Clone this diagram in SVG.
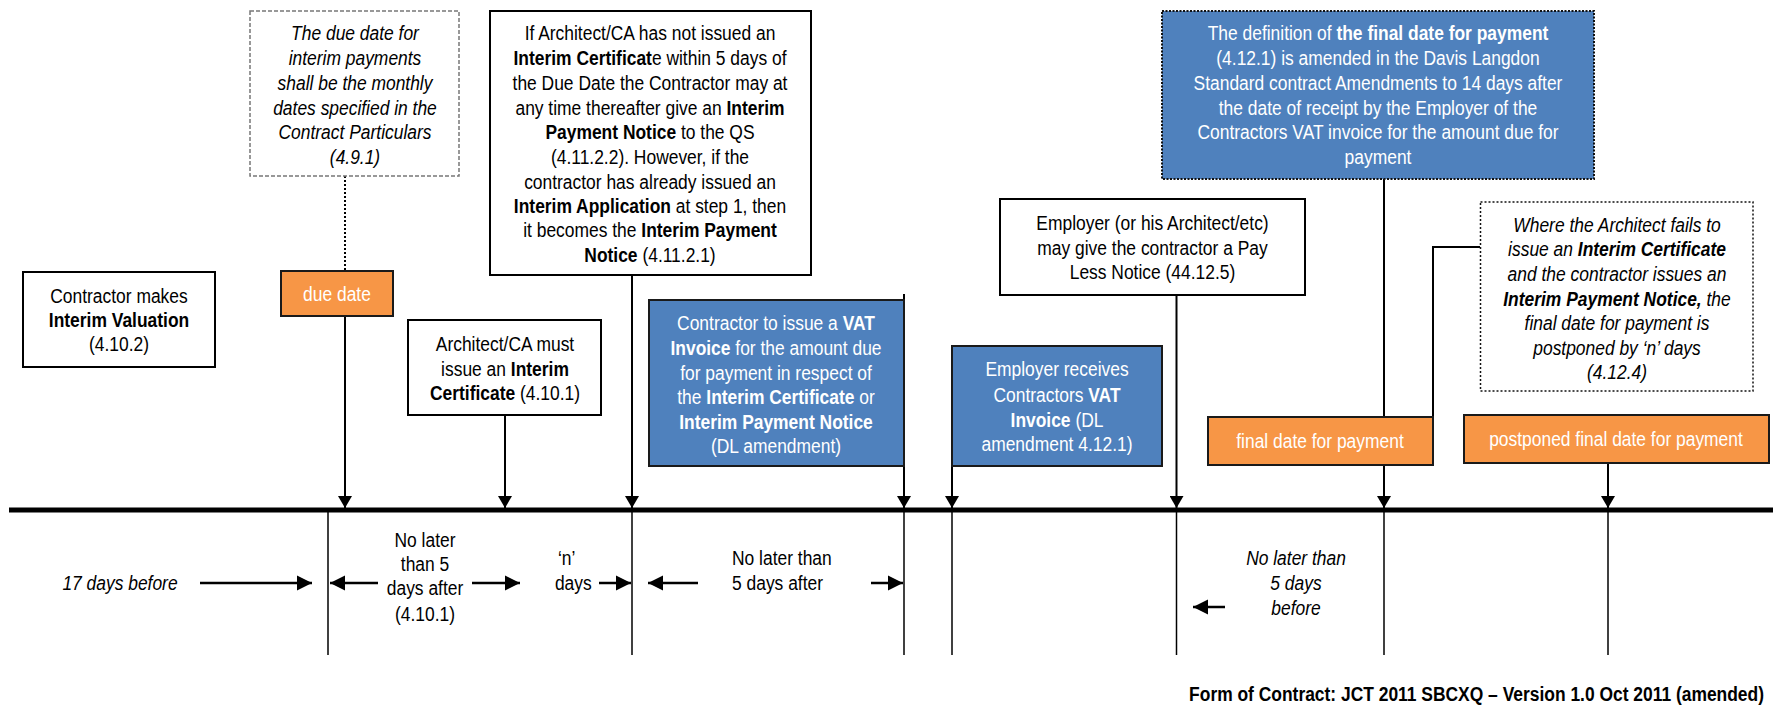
<svg xmlns="http://www.w3.org/2000/svg" width="1773" height="705" viewBox="0 0 1773 705">
<style>
.t{font-family:'Liberation Sans',Arial,sans-serif;font-size:21px;text-anchor:middle;fill:#000}
.b{font-weight:bold}
.i{font-style:italic}
.w{fill:#fff}
.box{fill:#fff;stroke:#000;stroke-width:2}
.org{fill:#F79646;stroke:#1a1a1a;stroke-width:2}
.blu{fill:#4F81BD;stroke:#1a1a1a;stroke-width:2}
.con{stroke:#000;stroke-width:2;fill:none}
.thin{stroke:#000;stroke-width:1.5;fill:none}
.har{stroke:#000;stroke-width:2.5;fill:none}
</style>
<defs>
<marker id="ah" markerUnits="userSpaceOnUse" markerWidth="14" markerHeight="14" viewBox="0 0 14 14" refX="12" refY="7" orient="auto">
<path d="M0,0 L12,7 L0,14 z" fill="#000"/>
</marker>
<marker id="ahh" markerUnits="userSpaceOnUse" markerWidth="16" markerHeight="16" viewBox="0 0 16 16" refX="15" refY="8" orient="auto">
<path d="M0,0.5 L15,8 L0,15.5 z" fill="#000"/>
</marker>
</defs>

<g id="axis">
<line x1="9" y1="510" x2="1773" y2="510" stroke="#000" stroke-width="5"/>
</g>

<g id="connectors">
<line class="con" x1="345" y1="176" x2="345" y2="271" stroke-dasharray="2,2"/>
<line class="con" x1="345" y1="316" x2="345" y2="508" marker-end="url(#ah)"/>
<line class="con" x1="505" y1="415" x2="505" y2="508" marker-end="url(#ah)"/>
<line class="con" x1="632" y1="275" x2="632" y2="508" marker-end="url(#ah)"/>
<line class="con" x1="904" y1="294" x2="904" y2="508" marker-end="url(#ah)"/>
<line class="con" x1="952" y1="416" x2="952" y2="508" marker-end="url(#ah)"/>
<line class="con" x1="1176.5" y1="295" x2="1176.5" y2="508" marker-end="url(#ah)"/>
<line class="con" x1="1384" y1="175" x2="1384" y2="417"/>
<line class="con" x1="1384" y1="465" x2="1384" y2="508" marker-end="url(#ah)"/>
<polyline class="con" points="1480,247 1433,247 1433,417"/>
<line class="con" x1="1608" y1="463" x2="1608" y2="508" marker-end="url(#ah)"/>
<line class="thin" x1="328" y1="512" x2="328" y2="655"/>
<line class="thin" x1="632" y1="512" x2="632" y2="655"/>
<line class="thin" x1="904" y1="512" x2="904" y2="655"/>
<line class="thin" x1="952" y1="512" x2="952" y2="655"/>
<line class="thin" x1="1176.5" y1="512" x2="1176.5" y2="655"/>
<line class="thin" x1="1384" y1="512" x2="1384" y2="655"/>
<line class="thin" x1="1608" y1="512" x2="1608" y2="655"/>
<line class="har" x1="200" y1="583" x2="312" y2="583" marker-end="url(#ahh)"/>
<line class="har" x1="378" y1="583" x2="330" y2="583" marker-end="url(#ahh)"/>
<line class="har" x1="472" y1="583" x2="520" y2="583" marker-end="url(#ahh)"/>
<line class="har" x1="599" y1="583" x2="631" y2="583" marker-end="url(#ahh)"/>
<line class="har" x1="698" y1="583" x2="648" y2="583" marker-end="url(#ahh)"/>
<line class="har" x1="871" y1="583" x2="903" y2="583" marker-end="url(#ahh)"/>
<line class="har" x1="1225" y1="607" x2="1193" y2="607" marker-end="url(#ahh)"/>
</g>

<g id="due-note">
<rect x="250" y="11" width="209" height="165" fill="#fff" stroke="#777" stroke-width="1.5" stroke-dasharray="4,2"/>
<g transform="translate(355 0) scale(0.83 1)">
<text class="t i" x="0" y="40">The due date for</text>
<text class="t i" x="0" y="65">interim payments</text>
<text class="t i" x="0" y="90">shall be the monthly</text>
<text class="t i" x="0" y="115">dates specified in the</text>
<text class="t i" x="0" y="139">Contract Particulars</text>
<text class="t i" x="0" y="164">(4.9.1)</text>
</g>
</g>

<g id="contractor-valuation">
<rect class="box" x="23" y="272" width="192" height="95"/>
<g transform="translate(119 0) scale(0.83 1)">
<text class="t" x="0" y="303">Contractor makes</text>
<text class="t b" x="0" y="327">Interim Valuation</text>
<text class="t" x="0" y="351">(4.10.2)</text>
</g>
</g>

<g id="due-date">
<rect class="org" x="281" y="271" width="112" height="45"/>
<g transform="translate(337 0) scale(0.83 1)">
<text class="t w" x="0" y="301">due date</text>
</g>
</g>

<g id="architect-certificate">
<rect class="box" x="408" y="320" width="193" height="95"/>
<g transform="translate(505 0) scale(0.83 1)">
<text class="t" x="0" y="351">Architect/CA must</text>
<text class="t" x="0" y="376">issue an <tspan class="b">Interim</tspan></text>
<text class="t" x="0" y="400"><tspan class="b">Certificate</tspan> (4.10.1)</text>
</g>
</g>

<g id="payment-notice">
<rect class="box" x="490" y="11" width="321" height="264"/>
<g transform="translate(650 0) scale(0.83 1)">
<text class="t" x="0" y="40">If Architect/CA has not issued an</text>
<text class="t" x="0" y="65"><tspan class="b">Interim Certificat</tspan>e within 5 days of</text>
<text class="t" x="0" y="90">the Due Date the Contractor may at</text>
<text class="t" x="0" y="115">any time thereafter give an <tspan class="b">Interim</tspan></text>
<text class="t" x="0" y="139"><tspan class="b">Payment Notice</tspan> to the QS</text>
<text class="t" x="0" y="164">(4.11.2.2). However, if the</text>
<text class="t" x="0" y="189">contractor has already issued an</text>
<text class="t" x="0" y="213"><tspan class="b">Interim Application</tspan> at step 1, then</text>
<text class="t" x="0" y="237">it becomes the <tspan class="b">Interim Payment</tspan></text>
<text class="t" x="0" y="262"><tspan class="b">Notice</tspan> (4.11.2.1)</text>
</g>
</g>

<g id="vat-invoice">
<rect class="blu" x="649" y="300" width="255" height="166"/>
<g transform="translate(776 0) scale(0.83 1)">
<text class="t w" x="0" y="330">Contractor to issue a <tspan class="b">VAT</tspan></text>
<text class="t w" x="0" y="355"><tspan class="b">Invoice</tspan> for the amount due</text>
<text class="t w" x="0" y="380">for payment in respect of</text>
<text class="t w" x="0" y="404">the <tspan class="b">Interim Certificate</tspan> or</text>
<text class="t w b" x="0" y="429">Interim Payment Notice</text>
<text class="t w" x="0" y="453">(DL amendment)</text>
</g>
</g>

<g id="employer-receives">
<rect class="blu" x="952" y="346" width="210" height="120"/>
<g transform="translate(1057 0) scale(0.83 1)">
<text class="t w" x="0" y="376">Employer receives</text>
<text class="t w" x="0" y="402">Contractors <tspan class="b">VAT</tspan></text>
<text class="t w" x="0" y="427"><tspan class="b">Invoice</tspan> (DL</text>
<text class="t w" x="0" y="451">amendment 4.12.1)</text>
</g>
</g>

<g id="pay-less">
<rect class="box" x="1000" y="199" width="305" height="96"/>
<g transform="translate(1152.5 0) scale(0.83 1)">
<text class="t" x="0" y="230">Employer (or his Architect/etc)</text>
<text class="t" x="0" y="255">may give the contractor a Pay</text>
<text class="t" x="0" y="279">Less Notice (44.12.5)</text>
</g>
</g>

<g id="final-date-definition">
<rect x="1162" y="11" width="432" height="168" fill="#4F81BD" stroke="#111" stroke-width="2" stroke-dasharray="2,1.5"/>
<g transform="translate(1378 0) scale(0.83 1)">
<text class="t w" x="0" y="40">The definition of <tspan class="b">the final date for payment</tspan></text>
<text class="t w" x="0" y="65">(4.12.1) is amended in the Davis Langdon</text>
<text class="t w" x="0" y="90">Standard contract Amendments to 14 days after</text>
<text class="t w" x="0" y="115">the date of receipt by the Employer of the</text>
<text class="t w" x="0" y="139">Contractors VAT invoice for the amount due for</text>
<text class="t w" x="0" y="164">payment</text>
</g>
</g>

<g id="postponement-note">
<rect x="1480.5" y="202" width="272.5" height="189" fill="#fff" stroke="#111" stroke-width="1.5" stroke-dasharray="2,2"/>
<g transform="translate(1617 0) scale(0.83 1)">
<text class="t i" x="0" y="232">Where the Architect fails to</text>
<text class="t i" x="0" y="256">issue an <tspan class="b">Interim Certificate</tspan></text>
<text class="t i" x="0" y="281">and the contractor issues an</text>
<text class="t i" x="0" y="306"><tspan class="b">Interim Payment Notice,</tspan> the</text>
<text class="t i" x="0" y="330">final date for payment is</text>
<text class="t i" x="0" y="355">postponed by ‘n’ days</text>
<text class="t i" x="0" y="379">(4.12.4)</text>
</g>
</g>

<g id="final-date">
<rect class="org" x="1208" y="417" width="225" height="48"/>
<g transform="translate(1320 0) scale(0.83 1)">
<text class="t w" x="0" y="448">final date for payment</text>
</g>
</g>

<g id="postponed-final-date">
<rect class="org" x="1464" y="415" width="305" height="48"/>
<g transform="translate(1616 0) scale(0.83 1)">
<text class="t w" x="0" y="446">postponed final date for payment</text>
</g>
</g>

<g id="interval-labels">
<g transform="translate(120 0) scale(0.83 1)">
<text class="t i" x="0" y="590">17 days before</text>
</g>
<g transform="translate(425 0) scale(0.83 1)">
<text class="t" x="0" y="547">No later</text>
<text class="t" x="0" y="571">than 5</text>
<text class="t" x="0" y="595">days after</text>
<text class="t" x="0" y="621">(4.10.1)</text>
</g>
<g transform="translate(570 0) scale(0.83 1)">
<text class="t" x="-4" y="565">‘n’</text>
<text class="t" x="4" y="590">days</text>
</g>
<g transform="translate(732 0) scale(0.83 1)">
<text class="t" x="0" y="565" style="text-anchor:start">No later than</text>
<text class="t" x="0" y="590" style="text-anchor:start">5 days after</text>
</g>
<g transform="translate(1296 0) scale(0.83 1)">
<text class="t i" x="0" y="565">No later than</text>
<text class="t i" x="0" y="590">5 days</text>
<text class="t i" x="0" y="615">before</text>
</g>
</g>

<g id="footer">
<g transform="translate(1764 0) scale(0.83 1)">
<text class="t b" x="0" y="701" style="text-anchor:end">Form of Contract: JCT 2011 SBCXQ – Version 1.0 Oct 2011 (amended)</text>
</g>
</g>
</svg>
